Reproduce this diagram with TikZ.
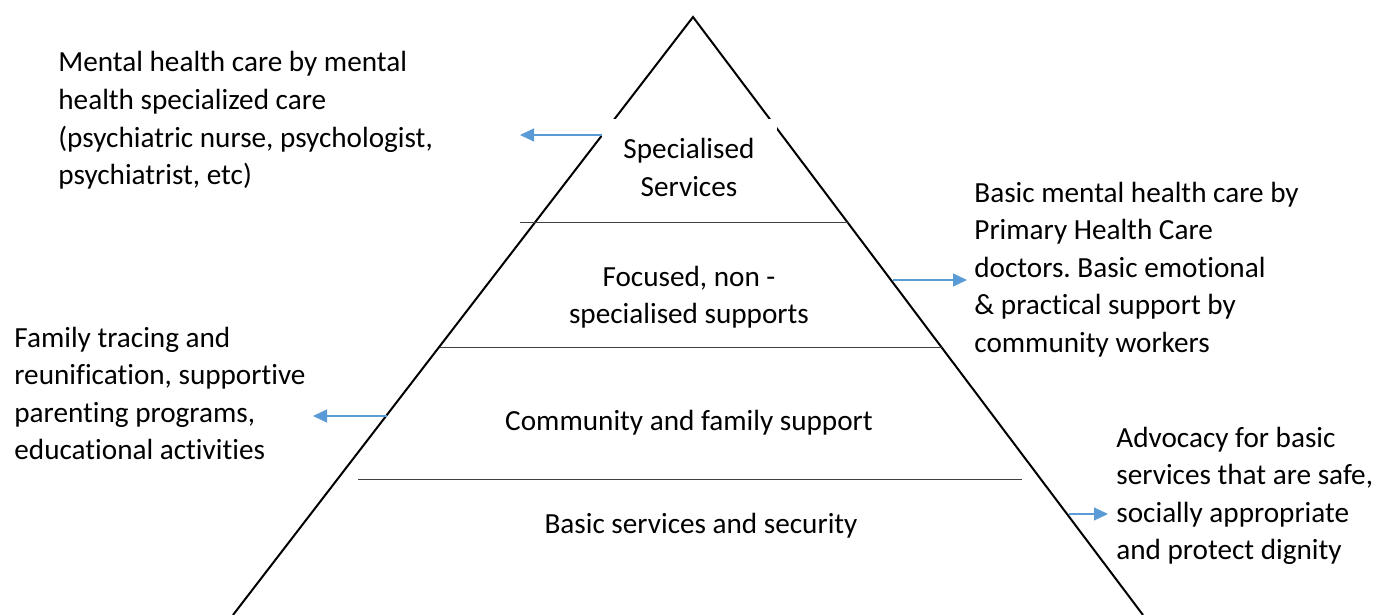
\documentclass[tikz,border=0pt]{standalone}
\usepackage{fontspec}
\setmainfont[Ligatures=NoCommon]{Carlito}
\usetikzlibrary{arrows.meta}
\definecolor{arrblue}{HTML}{5B9BD5}
\newcommand{\notebox}[1]{\parbox[t]{200pt}{\raggedright #1}}
\newcommand{\labelbox}[1]{\parbox[t]{220pt}{\centering #1}}
\frenchspacing
\begin{document}
\begin{tikzpicture}[x=0.5pt,y=-0.5pt,
  edge/.style={line width=1pt,black},
  tier/.style={line width=0.7pt,black!75},
  pointer/.style={line width=0.6pt,arrblue,-{Triangle[length=7pt,width=6.5pt]}},
  note/.style={font=\fontsize{14.6}{18.8}\selectfont,anchor=base west,inner sep=0pt},
  label/.style={font=\fontsize{14.6}{18.8}\selectfont,anchor=base,inner sep=0pt}]
\useasboundingbox (0,0) rectangle (1377,615);
% pyramid
\coordinate (apex) at (693,17);
\coordinate (bl) at (233,615);
\coordinate (br) at (1143,615);
\draw[edge] (bl) -- (apex) -- (br);
\fill[white] (602,119) rectangle (777,205);
% tier lines
\coordinate (t1a) at (520,222.5); \coordinate (t1b) at (848,222.5);
\coordinate (t2a) at (440,347.5); \coordinate (t2b) at (942,347.5);
\coordinate (t3a) at (358,479.5); \coordinate (t3b) at (1022,479.5);
\draw[tier] (t1a) -- (t1b);
\draw[tier] (t2a) -- (t2b);
\draw[tier] (t3a) -- (t3b);
% tier labels
\node[label] (spec) at (689,159) {\labelbox{Specialised\\Services}};
\node[label] (focus) at (689,286) {\labelbox{Focused, non -\\specialised supports}};
\node[label] (comm) at (689,430) {\labelbox{Community and family support}};
\node[label] (basic) at (701,533) {\labelbox{Basic services and security}};
% notes
\node[note] (n1) at (58,72) {\notebox{Mental health care by mental\\health specialized care\\(psychiatric nurse, psychologist,\\psychiatrist, etc)}};
\node[note] (n2) at (974,202) {\notebox{Basic mental health care by\\Primary Health Care\\doctors. Basic emotional\\\& practical support by\\community workers}};
\node[note] (n3) at (14,347) {\notebox{Family tracing and\\reunification, supportive\\parenting programs,\\educational activities}};
\node[note] (n4) at (1116,447) {\notebox{Advocacy for basic\\services that are safe,\\socially appropriate\\and protect dignity}};
% pointers
\coordinate (a1s) at (602,135); \coordinate (a1e) at (520,135);
\coordinate (a2s) at (893,280); \coordinate (a2e) at (967,280);
\coordinate (a3s) at (387,416); \coordinate (a3e) at (313,416);
\coordinate (a4s) at (1069,514); \coordinate (a4e) at (1108,514);
\draw[pointer] (a1s) -- (a1e);
\draw[pointer] (a2s) -- (a2e);
\draw[pointer] (a3s) -- (a3e);
\draw[pointer] (a4s) -- (a4e);
\end{tikzpicture}
\end{document}
